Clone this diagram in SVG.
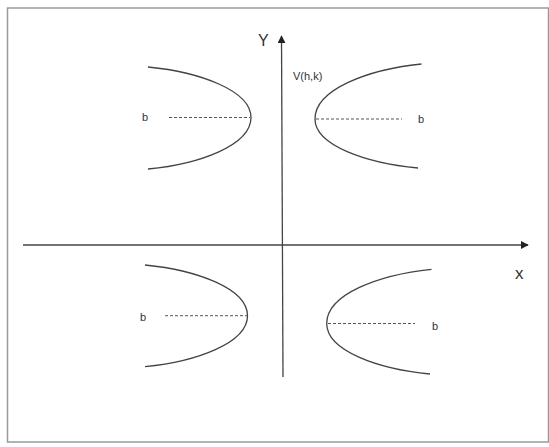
<svg xmlns="http://www.w3.org/2000/svg" width="549" height="447" viewBox="0 0 549 447">
<style>
.curve{fill:none;stroke:#444;stroke-width:1.3}
.dash{fill:none;stroke:#555;stroke-width:1;stroke-dasharray:3 2}
.axis{fill:none;stroke:#444;stroke-width:1.3}
.lbl{font-family:"Liberation Sans",Arial,sans-serif;font-size:11px;fill:#333}
.ax{font-family:"Liberation Sans",Arial,sans-serif;font-size:16px;fill:#333}
</style>
<defs>
<marker id="arr" viewBox="0 0 10 10" refX="9" refY="5" markerWidth="8" markerHeight="8" markerUnits="userSpaceOnUse" orient="auto">
<path d="M0,0 L10,5 L0,10 z" fill="#222"/>
</marker>
</defs>
<rect x="0" y="0" width="549" height="447" fill="#fff"/>
<rect x="7.5" y="8" width="541" height="434" fill="none" stroke="#9a9a9a" stroke-width="1.5"/>
<g id="connectors">
<line class="axis" x1="23" y1="245" x2="528" y2="245" marker-end="url(#arr)"/>
<line class="axis" x1="283" y1="377" x2="281.5" y2="36" marker-end="url(#arr)"/>
</g>
<g id="label-y"><text class="ax" x="258" y="46">Y</text></g>
<g id="label-x"><text class="ax" x="515" y="279" style="font-size:17px">x</text></g>
<g id="label-v"><text class="lbl" x="293" y="80">V(h,k)</text></g>
<g id="upper-left">
<path class="curve" d="M148,67 C199.5,72 251,90.5 251,117.5 C251,145.3 199.5,164 148,169"/>
<line class="dash" x1="169" y1="117.5" x2="250" y2="117.5"/>
<text class="lbl" x="142" y="121">b</text>
</g>
<g id="upper-right">
<path class="curve" d="M421.5,64 C368,69.5 315,89.3 315,119 C315,145.5 366.5,163.1 418,168"/>
<line class="dash" x1="316" y1="119" x2="402" y2="119"/>
<text class="lbl" x="418" y="123">b</text>
</g>
<g id="lower-left">
<path class="curve" d="M145,265 C196,270 247.5,288.3 247.5,315.7 C247.5,343.2 196,361.6 145,366.7"/>
<line class="dash" x1="165" y1="315.7" x2="247" y2="315.7"/>
<text class="lbl" x="140" y="321">b</text>
</g>
<g id="lower-right">
<path class="curve" d="M431.5,269.3 C379,274.7 326.7,294.2 326.7,323.5 C326.7,350.8 378,369 430,374"/>
<line class="dash" x1="328" y1="323.5" x2="415" y2="323.5"/>
<text class="lbl" x="432" y="330">b</text>
</g>
</svg>
